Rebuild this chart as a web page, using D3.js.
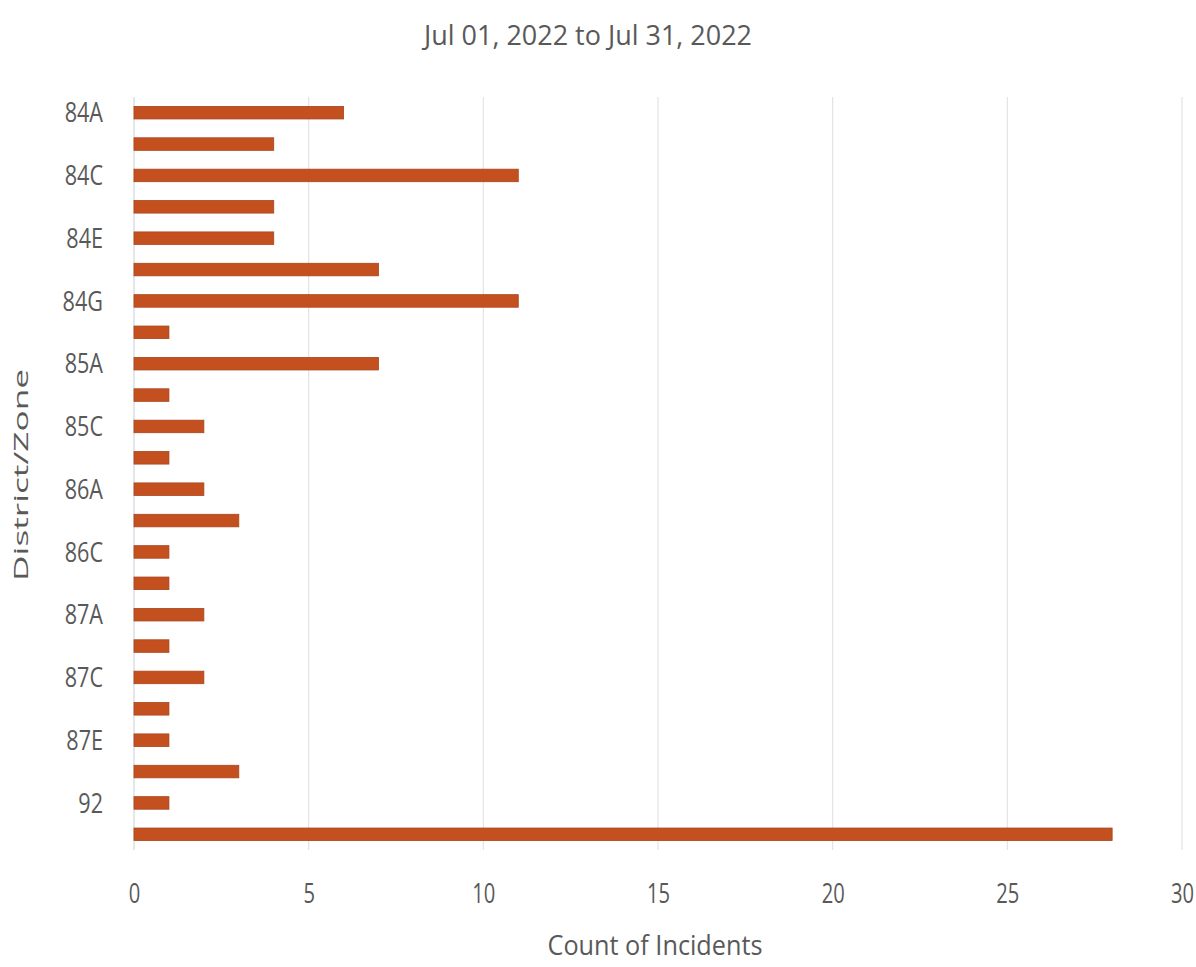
<!DOCTYPE html>
<html><head><meta charset="utf-8">
<script src="https://cdn.jsdelivr.net/npm/d3@7"></script>
<style>
body{margin:0;background:#fff;}
svg text{font-family:"Open Sans","Noto Sans",sans-serif;fill:#595959;}
</style></head>
<body>
<svg id="chart" width="1196" height="967"></svg>
<script>
const categories = ["84A","84B","84C","84D","84E","84F","84G","84H","85A","85B","85C","85D","86A","86B","86C","86D","87A","87B","87C","87D","87E","91","92","(blank)"];
const counts = [6,4,11,4,4,7,11,1,7,1,2,1,2,3,1,1,2,1,2,1,1,3,1,28];
const xTicks = [0,5,10,15,20,25,30];
const titleText = "Jul 01, 2022 to Jul 31, 2022";
const xTitle = "Count of Incidents";
const yTitle = "District/Zone";

const svg = d3.select("#chart");
const plotLeft = 134, plotRight = 1182, plotTop = 97, plotBottom = 850;

const x = d3.scaleLinear().domain([0,30]).range([plotLeft,plotRight]);
const y = d3.scaleBand().domain(categories).range([plotTop,plotBottom]).paddingInner(0.6).paddingOuter(0.3);

// gridlines
svg.append("g").selectAll("line").data(xTicks).join("line")
  .attr("x1", d=>x(d)).attr("x2", d=>x(d))
  .attr("y1", plotTop).attr("y2", plotBottom)
  .attr("stroke", d=> d===0 ? "#d0d8e0" : "#e3e3e3").attr("stroke-width",1.2);

// bars
svg.append("g").selectAll("rect").data(categories).join("rect")
  .attr("x", x(0))
  .attr("y", d=>y(d))
  .attr("width", (d,i)=>x(counts[i])-x(0))
  .attr("height", y.bandwidth())
  .attr("fill", "#c5501f")
  .attr("stroke", "#a8441c").attr("stroke-width", 0.8);

// y axis
const yAxis = d3.axisLeft(y).tickSize(0).tickPadding(0)
  .tickValues(categories.filter((d,i)=>i%2===0 && i<categories.length-1));
const yg = svg.append("g").attr("transform",`translate(${plotLeft},0)`).call(yAxis);
yg.select(".domain").remove();
yg.selectAll("text").attr("x",0).attr("dy","0.36em")
  .style("font-size","27px").attr("fill","#595959")
  .attr("transform","translate(-31,0) scale(0.8,1)");

// x axis
const xAxis = d3.axisBottom(x).tickValues(xTicks).tickSize(0).tickPadding(0);
const xg = svg.append("g").attr("transform",`translate(0,${plotBottom})`).call(xAxis);
xg.select(".domain").remove();
xg.selectAll("text").attr("y",0).attr("dy","0")
  .style("font-size","28px").attr("fill","#595959")
  .attr("transform","translate(0,53) scale(0.72,1)");

// title
svg.append("text").attr("x",588).attr("y",45).attr("text-anchor","middle")
  .style("font-size","28px").attr("textLength",328).attr("lengthAdjust","spacingAndGlyphs")
  .text(titleText);

// x title
svg.append("text").attr("x",655).attr("y",955).attr("text-anchor","middle")
  .style("font-size","28px").attr("textLength",215).attr("lengthAdjust","spacingAndGlyphs")
  .text(xTitle);

// y title
svg.append("text").attr("transform","translate(28,475) rotate(-90)").attr("text-anchor","middle")
  .style("font-size","20px").attr("textLength",212).attr("lengthAdjust","spacingAndGlyphs")
  .text(yTitle);
</script>
</body></html>
